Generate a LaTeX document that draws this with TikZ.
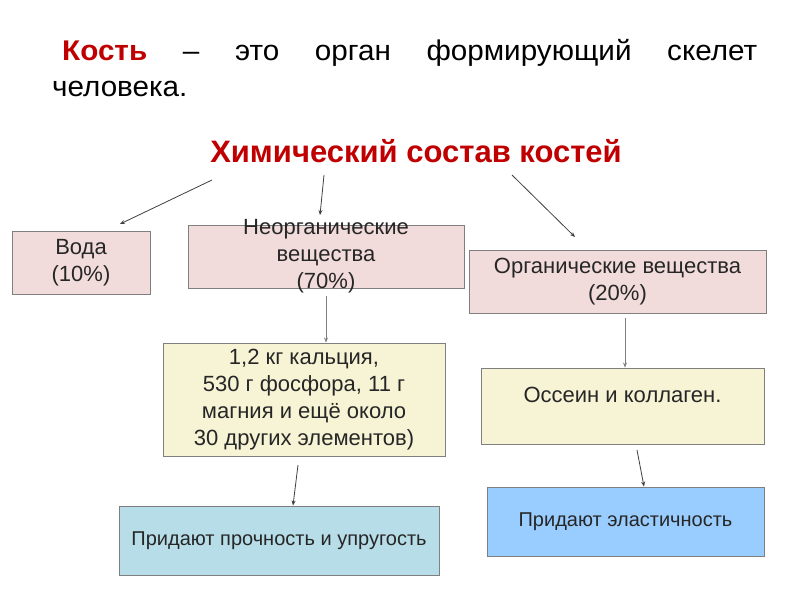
\documentclass[tikz,border=0pt]{standalone}
\usepackage{fontspec}
\setmainfont{Liberation Sans}
\newfontfamily\titfont[FakeStretch=1.04]{Liberation Sans}
\usetikzlibrary{arrows.meta}
\definecolor{titred}{HTML}{C00000}
\definecolor{pinkf}{HTML}{F2DCDB}
\definecolor{yelf}{HTML}{F7F4D6}
\definecolor{bluea}{HTML}{B7DDE8}
\definecolor{blueb}{HTML}{99CCFF}
\definecolor{edgec}{HTML}{7F7F7F}
\definecolor{arrc}{HTML}{404040}
\tikzset{
  boxs/.style={draw=edgec, line width=0.9pt, inner sep=0pt},
  txt/.style={font=\fontsize{22}{27}\selectfont, align=center, inner sep=0pt, text=black!85},
  txtb/.style={font=\fontsize{20}{27}\selectfont, align=center, inner sep=0pt, text=black!85},
  arr/.style={draw=arrc, line width=0.8pt, -{Stealth[length=5pt,width=4pt]}},
}
\begin{document}
\begin{tikzpicture}[x=1pt,y=-1pt]
\useasboundingbox (0,0) rectangle (800,600);
\fill[white] (0,0) rectangle (800,600);
% title
\node[anchor=base west, inner sep=0pt, font=\titfont\fontsize{28.5}{35}\selectfont] (t1) at (62,60)
  {\hbox to 695pt{\textcolor{titred}{\textbf{Кость}}\hfill –\hfill это\hfill орган\hfill формирующий\hfill скелет}};
\node[anchor=base west, inner sep=0pt, font=\titfont\fontsize{28.5}{35}\selectfont] (t2) at (52,96) {человека.};
\node[anchor=base, inner sep=0pt, font=\bfseries\fontsize{31}{36}\selectfont, text=titred] (head) at (416,162) {Химический состав костей};
% boxes
\node[boxs, fill=pinkf, minimum width=138, minimum height=63] (voda) at (81,262.5) {};
\node[txt] at (voda) {Вода\\(10\%)};
\node[boxs, fill=pinkf, minimum width=276, minimum height=63] (inorg) at (326,256.5) {};
\node[txt] at (inorg) {Неорганические\\вещества\\(70\%)};
\node[boxs, fill=pinkf, minimum width=297, minimum height=63] (org) at (617.5,281.5) {};
\node[txt] at (org) {Органические вещества\\(20\%)};
\node[boxs, fill=yelf, minimum width=282, minimum height=113] (yel1) at (304,399.5) {};
\node[txt] at (yel1) {1,2 кг кальция,\\530 г фосфора, 11 г\\магния и ещё около\\30 других элементов)};
\node[boxs, fill=yelf, minimum width=283, minimum height=76] (yel2) at (622.5,406) {};
\node[txt] at (622.5,395) {Оссеин и коллаген.};
\node[boxs, fill=bluea, minimum width=320, minimum height=69] (blu1) at (279,540.5) {};
\node[txtb] at (blu1) {Придают прочность и упругость};
\node[boxs, fill=blueb, minimum width=277, minimum height=69] (blu2) at (625.5,521.5) {};
\node[txtb] at (blu2) {Придают эластичность};
% connectors
\coordinate (s1) at (212,180);
\coordinate (e1) at (120,224);
\coordinate (s2) at (324,175);
\coordinate (e2) at (320,215);
\coordinate (s3) at (512,175);
\coordinate (e3) at (575,237);
\coordinate (s4) at (326,296);
\coordinate (s5) at (625,318);
\coordinate (s6) at (298,465);
\coordinate (s7) at (637,450);
\draw[arr] (s1) -- (e1);
\draw[arr] (s2) -- (e2);
\draw[arr] (s3) -- (e3);
\draw[arr, draw=edgec] (s4) -- ([xshift=22pt]yel1.north);
\draw[arr, draw=edgec] (s5) -- ([xshift=2.5pt]yel2.north);
\draw[arr] (s6) -- ([xshift=14pt]blu1.north);
\draw[arr] (s7) -- ([xshift=18.5pt]blu2.north);
\end{tikzpicture}
\end{document}
